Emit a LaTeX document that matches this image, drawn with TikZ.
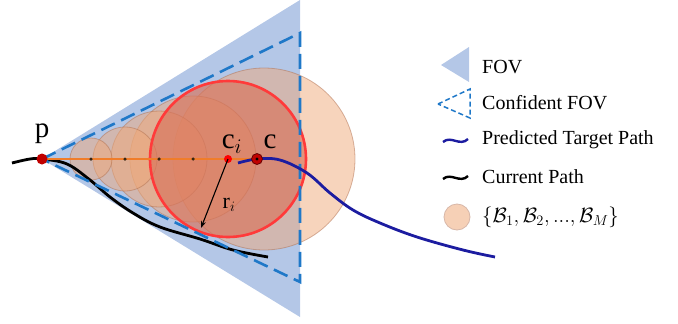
\documentclass[tikz,border=0pt]{standalone}
\usepackage{fontspec}
\setmainfont{Liberation Serif}
\usetikzlibrary{arrows.meta}
\definecolor{fovblue}{HTML}{B4C7E7}
\definecolor{dashblue}{HTML}{1F78C8}
\definecolor{bubble}{HTML}{EFA97A}
\definecolor{bubbleedge}{HTML}{B07050}
\definecolor{redc}{HTML}{FF3A3A}
\definecolor{redfill}{HTML}{C03535}
\definecolor{pathblue}{HTML}{1C1CA0}
\definecolor{orangeline}{HTML}{F07D2A}
\definecolor{darkred}{HTML}{C00000}
\tikzset{
  fov/.style={fill=fovblue},
  conf/.style={draw=dashblue, line width=2.6pt, dash pattern=on 15pt off 7pt},
  bub/.style={fill=bubble, fill opacity=0.5, draw=bubbleedge, draw opacity=0.5, line width=0.8pt},
  predpath/.style={draw=pathblue, line width=2.8pt},
  curpath/.style={draw=black, line width=2.8pt},
  smalldot/.style={circle, fill=black!70!brown, inner sep=0pt, minimum size=3.5pt},
  leg/.style={anchor=west, font=\fontsize{20}{24}\selectfont, inner sep=0pt},
  lab/.style={anchor=base, inner sep=0pt},
}
\begin{document}
\begin{tikzpicture}[x=1pt, y=-1pt]
\useasboundingbox (0,0) rectangle (678,324);
% FOV
\fill[fov] (42,159) -- (300,0) -- (300,317) -- cycle;
% bubbles
\coordinate (p) at (42,159);
\coordinate (b1) at (91,159);
\coordinate (b2) at (125,159);
\coordinate (b3) at (159,159);
\coordinate (b4) at (193,159);
\coordinate (ci) at (228,159);
\coordinate (c) at (257,159);
\coordinate (bM) at (264,159);
\path[bub] (bM) circle[radius=91];
\path[bub] (b4) circle[radius=63];
\path[bub] (b3) circle[radius=48];
\path[bub] (b2) circle[radius=32];
\path[bub] (b1) circle[radius=21];
\path[bub] (ci) circle[radius=78];
\fill[redfill, opacity=0.3] (ci) circle[radius=78];
\draw[redc, line width=2.6pt] (ci) circle[radius=78];
% current path
\draw[curpath] plot[smooth, tension=0.6] coordinates {(12,163) (30,159) (42,159) (67,164) (90,180) (110,197) (133,213) (160,227) (200,239) (233,250) (268,257)};
% confident FOV
\draw[conf] (42,159) -- (300,33) -- (300,282) -- cycle;
% orange line
\draw[orangeline, line width=1.8pt] (p) -- (c);
% predicted path
\draw[predpath] plot[smooth, tension=0.6] coordinates {(238,163) (257,159) (280,160) (307,173) (330,193) (353,210) (380,223) (417,237) (463,250) (495,257)};
% dots
\node[smalldot] at (b1) {};
\node[smalldot] at (b2) {};
\node[smalldot] at (b3) {};
\node[smalldot] at (b4) {};
\fill[darkred] (p) circle[radius=5.5];
\fill[red] (ci) circle[radius=4];
\filldraw[fill=darkred, draw=black!60!red, line width=0.8pt] (c) circle[radius=5.5];
\fill[black] (c) circle[radius=1.6];
% radius arrow
\coordinate (rend) at (201,228);
\draw[-{Stealth[length=7pt,width=5pt]}, line width=1.1pt] (ci) -- (rend);
% labels
\node[lab, font=\fontsize{29}{31}\selectfont] (lp) at (42,137) {p};
\node[lab, font=\fontsize{29}{31}\selectfont] (lci) at (232,148) {c$_{i}$};
\node[lab, font=\fontsize{29}{31}\selectfont] (lc) at (270,148) {c};
\node[lab, font=\fontsize{22}{24}\selectfont] (lr) at (229,208) {r$_{i}$};
% legend
\fill[fov] (441,65) -- (469,47) -- (469,82) -- cycle;
\draw[draw=dashblue, line width=1.5pt, dash pattern=on 5pt off 3pt] (438,104) -- (470,89) -- (470,118) -- cycle;
\draw[predpath, line width=2.4pt] (443,142) .. controls (451,135) and (460,147) .. (468,139);
\draw[curpath, line width=2.4pt] (443,179) .. controls (451,172) and (460,184) .. (468,176);
\filldraw[fill=bubble!55, draw=bubbleedge!50, line width=0.8pt] (457,217) circle[radius=13];
\node[leg] (l1) at (482,67) {FOV};
\node[leg] (l2) at (482,103) {Confident FOV};
\node[leg] (l3) at (482,140) {Predicted Target Path};
\node[leg] (l4) at (482,177) {Current Path};
\node[leg] (l5) at (482,217) {$\{\mathcal{B}_1, \mathcal{B}_2, ..., \mathcal{B}_M\}$};
\end{tikzpicture}
\end{document}
